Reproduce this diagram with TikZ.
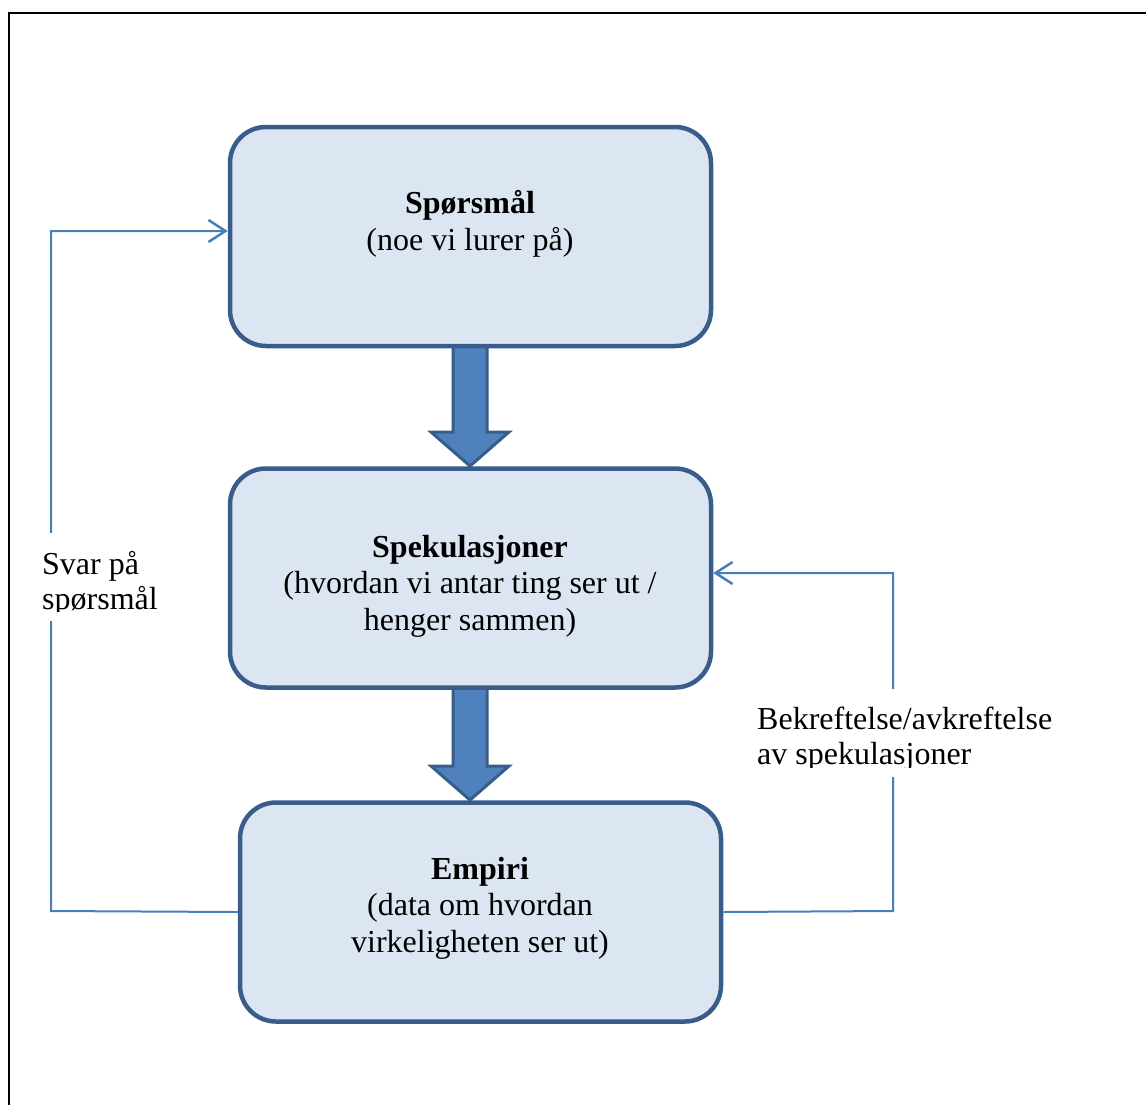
\documentclass[tikz,border=0pt]{standalone}
\usepackage{fontspec}
\setmainfont{Liberation Serif}
\usetikzlibrary{arrows.meta}
\definecolor{boxfill}{HTML}{DCE6F2}
\definecolor{boxline}{HTML}{385D8A}
\definecolor{flowfill}{HTML}{4F81BD}
\definecolor{linkline}{HTML}{4A7EBB}
\begin{document}
\begin{tikzpicture}[x=1pt,y=-1pt,
  stage/.style={draw=boxline, line width=4.5pt, fill=boxfill, rounded corners=36pt,
    minimum width=481pt, minimum height=219pt, inner sep=0pt},
  stagetext/.style={align=center, font=\fontsize{32}{36.5}\selectfont},
  note/.style={align=left, anchor=north west, inner sep=0pt, font=\fontsize{32}{35}\selectfont},
  flow/.style={fill=flowfill, draw=boxline, line width=3pt, line join=miter},
  link/.style={draw=linkline, line width=2pt, -{Straight Barb[length=17pt,width=22pt,line width=2.5pt]}}]
\useasboundingbox (0,0) rectangle (1146,1104);

% page frame
\draw[line width=2pt] (9,13) rectangle (1170,1130);

% broad arrows between the stages
\filldraw[flow] (453,346) -- (487,346) -- (487,432) -- (509,432) -- (470,466)
  -- (431,432) -- (453,432) -- cycle;
\filldraw[flow] (453,688) -- (487,688) -- (487,766) -- (509,766) -- (470,800)
  -- (431,766) -- (453,766) -- cycle;

% stages
\node[stage] (sporsmal) at (470.5,236.5) {};
\node[stage] (spek) at (470.5,578) {};
\node[stage] (empiri) at (480.5,912) {};

\node[stagetext] (t1) at (470,224) {\textbf{Spørsmål}\\(noe vi lurer på)};
\node[stagetext] (t2) at (470,586) {\textbf{Spekulasjoner}\\(hvordan vi antar ting ser ut /\\henger sammen)};
\node[stagetext] (t3) at (480,908) {\textbf{Empiri}\\(data om hvordan\\virkeligheten ser ut)};

% feedback loops
\coordinate (lcorner) at (51,911);
\coordinate (rcorner) at (893,911);
\coordinate (qin) at (sporsmal.west |- 0,231);
\coordinate (sin) at (spek.east |- 0,573);
\draw[link] (empiri.west) -- (lcorner) |- (qin);
\draw[link] (empiri.east) -- (rcorner) |- (sin);

% loop labels on white ground, cut off at the foot of their frames
\fill[white] (30,533) rectangle (175,621);
\begin{scope}
  \clip (30,533) rectangle (300,611);
  \node[note] (svar) at (42,551) {Svar på\\spørsmål};
\end{scope}
\fill[white] (750,689) rectangle (1070,777);
\begin{scope}
  \clip (750,689) rectangle (1100,767);
  \node[note] (bekr) at (757,707) {Bekreftelse/avkreftelse\\av spekulasjoner};
\end{scope}
\end{tikzpicture}
\end{document}
